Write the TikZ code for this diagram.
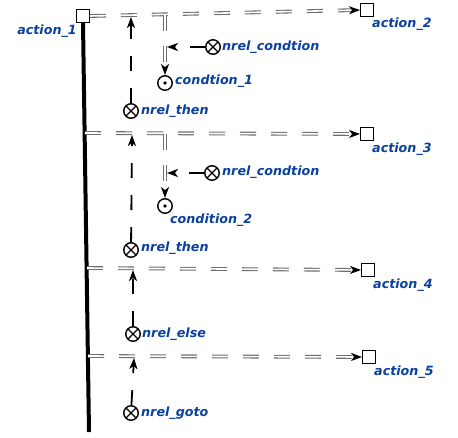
\documentclass[tikz,border=0pt]{standalone}
\usepackage{fontspec}
\setsansfont{DejaVu Sans}
\usetikzlibrary{arrows.meta}
\definecolor{lblblue}{RGB}{10,65,160}
\definecolor{dblgray}{RGB}{110,110,110}
\begin{document}
\begin{tikzpicture}[x=1pt,y=-1pt,
  act/.style={draw, line width=1.4pt, minimum size=12.5pt, inner sep=0pt},
  lbl/.style={text=lblblue, font=\sffamily\bfseries\itshape\fontsize{12.7}{14}\selectfont, inner sep=0pt},
  xnode/.style={circle, draw, line width=1.4pt, minimum size=14.5pt, inner sep=0pt,
    path picture={\draw[line width=1.3pt] (path picture bounding box.north west) -- (path picture bounding box.south east)
      (path picture bounding box.north east) -- (path picture bounding box.south west);}},
  dnode/.style={circle, draw, line width=1.4pt, minimum size=14.5pt, inner sep=0pt,
    path picture={\fill (path picture bounding box.center) circle (1.8pt);}},
  dbl/.style={draw=dblgray, double=white, double distance=1.6pt, line width=1.1pt,
    dash pattern=on 16pt off 15pt, -{Stealth[black,length=11pt,width=8pt,inset=3pt]}},
  sgl/.style={draw=black, line width=1.8pt, dash pattern=on 15pt off 17pt,
    -{Stealth[length=11pt,width=8pt,inset=3pt]}},
  spine/.style={line width=4pt}
]
\useasboundingbox (0,0) rectangle (458,437);

% action boxes
\node[act] (a1) at (83,16) {};
\node[act] (a2) at (367,10) {};
\node[act] (a3) at (367,134) {};
\node[act] (a4) at (368,270) {};
\node[act] (a5) at (369,357) {};

% spine
\coordinate (sb) at (89,432);
\draw[spine] (a1.south) -- (sb);

% horizontal starts
\coordinate (h2) at (85,133);
\coordinate (h3) at (87,268);
\coordinate (h4) at (88,356);

\draw[dbl] (a1.east) -- (a2.west);
\draw[dbl] (h2) -- (a3.west);
\draw[dbl] (h3) -- (a4.west);
\draw[dbl] (h4) -- (a5.west);

% block 1
\node[xnode] (then1) at (131,111) {};
\node[dnode] (cond1) at (165,83) {};
\node[xnode] (nc1) at (213,47) {};
\coordinate (t1) at (131,17);
\coordinate (c1) at (165,15);
\coordinate (n1) at (167,47);
\draw[sgl] (then1) -- (t1);
\draw[dbl] (c1) -- (cond1);
\draw[sgl] (nc1) -- (n1);

% block 2
\node[xnode] (then2) at (131,250) {};
\node[dnode] (cond2) at (165,206) {};
\node[xnode] (nc2) at (212,173) {};
\coordinate (t2) at (132,135);
\coordinate (c2) at (165,134);
\coordinate (n2) at (167,173);
\draw[sgl] (then2) -- (t2);
\draw[dbl] (c2) -- (cond2);
\draw[sgl] (nc2) -- (n2);

% else / goto
\node[xnode] (else) at (133,334) {};
\node[xnode] (goto) at (131,413) {};
\coordinate (t3) at (133,270);
\coordinate (t4) at (134,358);
\draw[sgl] (else) -- (t3);
\draw[sgl] (goto) -- (t4);

% labels
\node[lbl, anchor=east] (la1) at (77,31) {action\_1};
\node[lbl, anchor=west] (la2) at (372,24) {action\_2};
\node[lbl, anchor=west] (la3) at (372,149) {action\_3};
\node[lbl, anchor=west] (la4) at (373,285) {action\_4};
\node[lbl, anchor=west] (la5) at (374,372) {action\_5};
\node[lbl, anchor=west] (lnc1) at (222,47) {nrel\_condtion};
\node[lbl, anchor=west] (lc1) at (175,81) {condtion\_1};
\node[lbl, anchor=west] (lt1) at (141,111) {nrel\_then};
\node[lbl, anchor=west] (lnc2) at (222,172) {nrel\_condtion};
\node[lbl, anchor=west] (lc2) at (170,220) {condition\_2};
\node[lbl, anchor=west] (lt2) at (141,248) {nrel\_then};
\node[lbl, anchor=west] (le) at (142,334) {nrel\_else};
\node[lbl, anchor=west] (lg) at (141,413) {nrel\_goto};
\end{tikzpicture}
\end{document}
